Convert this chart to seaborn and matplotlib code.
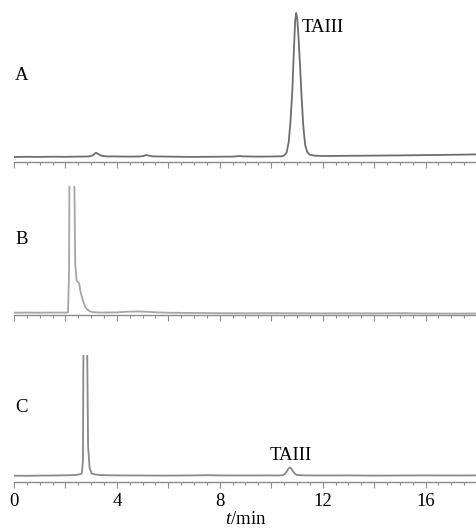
import numpy as np
import pandas as pd
import matplotlib
matplotlib.use("Agg")
import matplotlib.pyplot as plt
import seaborn as sns

# chromatogram A (standard), intensity above baseline
time_a = [0, 0.5, 1.0, 1.5, 2.0, 2.5, 2.9, 3.05, 3.15, 3.2, 3.27, 3.4, 3.6, 4.0, 4.5,
          4.9, 5.05, 5.15, 5.25, 5.4, 6.0, 6.5, 7.0, 7.5, 8.0, 8.5, 8.7, 8.78, 8.9, 9.5,
          10.0, 10.4, 10.5, 10.6, 10.68, 10.75, 10.82, 10.88, 10.93, 10.97, 11.01, 11.06,
          11.12, 11.18, 11.25, 11.32, 11.4, 11.5, 11.7, 12.0, 13, 14, 15, 16, 17, 18]
signal_a = [0.0, 0.2, 0.1, 0.3, 0.2, 0.4, 0.5, 1.5, 3.5, 4.2, 3.0, 1.2, 0.6, 0.5, 0.4,
            0.5, 1.2, 2.0, 1.3, 0.6, 0.4, 0.2, 0.1, 0.2, 0.3, 0.4, 0.8, 1.0, 0.6, 0.4,
            0.5, 0.7, 1.4, 4.5, 15, 36, 66, 106, 136, 144, 139, 120,
            92, 60, 30, 12, 5, 2.2, 1.3, 1.0, 1.2, 1.4, 1.6, 1.9, 2.2, 2.6]

# chromatogram B (blank)
time_b = [0, 0.5, 1.0, 1.5, 2.0, 2.1, 2.14, 2.18, 2.25, 2.32, 2.38, 2.43, 2.48, 2.53,
          2.58, 2.64, 2.7, 2.77, 2.85, 2.96, 3.1, 3.3, 3.6, 4.0, 4.4, 4.8, 5.2, 5.6, 6.0,
          7, 8, 9, 10, 11, 12, 13, 14, 15, 16, 17, 18]
signal_b = [0.3, 0.4, 0.3, 0.5, 0.4, 0.6, 40, 300, 420, 200, 50, 33, 31, 30,
            22, 16, 11, 6, 3.5, 1.5, 0.8, 0.5, 0.5, 0.6, 1.3, 1.5, 1.2, 0.6, 0.3,
            0.0, -0.2, -0.3, -0.2, -0.3, -0.4, -0.3, -0.4, -0.2, -0.5, -0.6, -0.5]

# chromatogram C (sample)
time_c = [0, 0.5, 1.0, 1.5, 2.0, 2.4, 2.6, 2.64, 2.68, 2.72, 2.76, 2.8, 2.84, 2.88,
          2.94, 3.02, 3.1, 3.3, 3.6, 4, 5, 6, 7, 7.5, 8, 9, 10, 10.3, 10.45, 10.53,
          10.6, 10.66, 10.72, 10.78, 10.85, 10.93, 11.0, 11.3, 12, 13, 14, 15, 16, 17, 18]
signal_c = [0.3, 0.2, 0.4, 0.5, 0.7, 1.0, 2.0, 3.0, 15, 250, 450, 380, 140, 30,
            8, 2.5, 1.8, 1.0, 0.8, 0.6, 0.5, 0.4, 0.6, 0.8, 0.6, 0.5, 0.6, 0.5, 0.8, 2.0,
            4.5, 7.0, 8.5, 7.5, 4.5, 2.0, 1.0, 0.6, 0.5, 0.6, 0.4, 0.5, 0.6, 0.5, 0.6]

panel_names = ["A", "B", "C"]
tick_positions = [0, 2, 4, 6, 8, 10, 12, 14, 16, 18]
tick_labels = ["0", "", "4", "", "8", "", "12", "", "16", ""]

sns.set_theme(style="ticks")
plt.rcParams['font.family'] = ['Liberation Serif', 'DejaVu Serif']
plt.rcParams['text.color'] = 'black'
plt.rcParams['axes.labelcolor'] = 'black'
plt.rcParams['mathtext.fontset'] = 'custom'
plt.rcParams['mathtext.rm'] = 'Liberation Serif'
plt.rcParams['mathtext.it'] = 'Liberation Serif:italic'

W, H = 477, 529
fig = plt.figure(figsize=(W / 100, H / 100), dpi=100)

# (spine row, top row, baseline row, line colour) in pixels
layout = [(162, 10, 157, '#6e6e6e'),
          (314.5, 186, 313, '#a6a6a6'),
          (481.7, 355, 476, '#8a8a8a')]
traces = [(time_a, signal_a), (time_b, signal_b), (time_c, signal_c)]
label_rows = [75, 240, 407]

left = 14 / W
width = 463 / W
axes = []
for (spine, top, base, color), (t, s), name, lrow in zip(layout, traces, panel_names, label_rows):
    ax = fig.add_axes([left, (H - spine) / H, width, (spine - top) / H])
    df = pd.DataFrame({'time': t, 'signal': s})
    sns.lineplot(data=df, x='time', y='signal', ax=ax, color=color, linewidth=1.3,
                 sort=False, estimator=None)
    ax.set_xlim(0, 18)
    ax.set_ylim(-(spine - base), base - top)
    for side in ['top', 'right', 'left']:
        ax.spines[side].set_visible(False)
    ax.spines['bottom'].set_color('#8c8c8c')
    ax.spines['bottom'].set_linewidth(1.0)
    ax.set_yticks([])
    ax.set_xticks(tick_positions)
    ax.set_xticklabels(tick_labels)
    ax.set_xticks(np.arange(0, 18.01, 0.5), minor=True)
    ax.tick_params(axis='x', which='major', length=4, width=0.8, color='#8c8c8c',
                   direction='out', labelsize=13.5, labelcolor='black', pad=4)
    ax.tick_params(axis='x', which='minor', length=2, width=0.8, color='#8c8c8c',
                   direction='out')
    ax.set_xlabel('')
    ax.set_ylabel('')
    ax.patch.set_alpha(0)
    fig.text(21.7 / W, 1 - lrow / H, name, fontsize=13.5, ha='center', va='center',
             color='black')
    axes.append(ax)

axes[0].tick_params(axis='x', which='both', labelbottom=False)
axes[1].tick_params(axis='x', which='both', labelbottom=False)

axes[0].text(11.2, 129, 'TAIII', fontsize=13.5, ha='left', va='center', color='black')
axes[2].text(10.77, 21, 'TAIII', fontsize=13.5, ha='center', va='center', color='black')

axes[2].set_xlabel('$t$/min', fontsize=13.5, va='center', color='black')
axes[2].xaxis.set_label_coords(0.5, -0.3)

fig.savefig('out.png', dpi=100)
